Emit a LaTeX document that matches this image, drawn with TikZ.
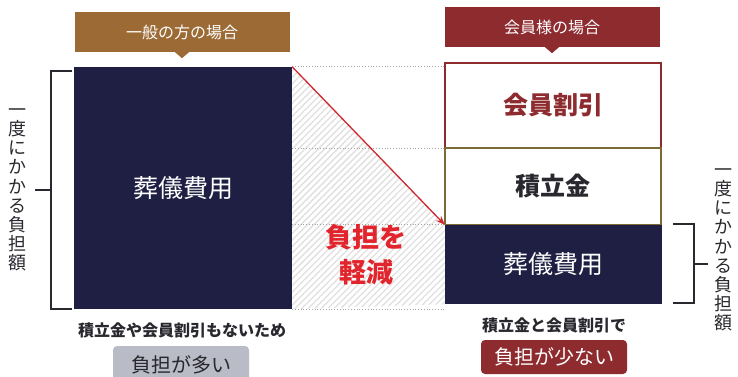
\documentclass[tikz,border=0pt]{standalone}
\usepackage{fontspec}
\setmainfont{Noto Sans CJK JP}
\usetikzlibrary{patterns.meta,arrows.meta}
\definecolor{navy}{RGB}{30,31,66}
\definecolor{hbrown}{RGB}{156,106,53}
\definecolor{hred}{RGB}{142,43,47}
\definecolor{olive}{RGB}{122,106,53}
\definecolor{alert}{RGB}{226,36,44}
\definecolor{arrowred}{RGB}{208,38,46}
\definecolor{graybox}{RGB}{185,187,198}
\definecolor{ink}{RGB}{40,40,46}
\tikzset{
  hdr/.style={fill=#1, text=white, minimum width=215pt, minimum height=40pt, inner sep=0pt, font=\fontsize{16}{18}\selectfont},
  navybox/.style={fill=navy, text=white, inner sep=0pt, font=\fontsize{25}{28}\selectfont},
  whitebox/.style={fill=white, draw=#1, line width=1.5pt, inner sep=0pt, minimum width=216pt},
  bigtxt/.style={font=\bfseries\fontsize{25}{28}\selectfont},
  redtxt/.style={text=alert, font=\bfseries\fontsize{27}{30}\selectfont, inner sep=0pt},
  dotline/.style={draw=gray!70, dotted, line width=0.8pt},
  bracket/.style={draw=ink, line width=1.4pt},
  vtext/.style={align=center, inner sep=0pt, text=ink, font=\fontsize{18}{19.2}\selectfont},
  captxt/.style={text=ink, inner sep=0pt, font=\bfseries\fontsize{16}{18}\selectfont},
  pill/.style={fill=#1, rounded corners=4pt, inner sep=0pt, font=\fontsize{20}{22}\selectfont}
}
\begin{document}
\begin{tikzpicture}[x=1pt,y=-1pt]
\useasboundingbox (0,0) rectangle (738,376);
\fill[white] (0,0) rectangle (738,376);

% headers
\node[hdr=hbrown] (h1) at (182,32) {一般の方の場合};
\fill[hbrown] ([xshift=-7pt]h1.south) -- ([yshift=-6pt]h1.south) -- ([xshift=7pt]h1.south) -- cycle;
\node[hdr=hred] (h2) at (552,27) {会員様の場合};
\fill[hred] ([xshift=-7pt]h2.south) -- ([yshift=-6pt]h2.south) -- ([xshift=7pt]h2.south) -- cycle;

% left box
\node[navybox, minimum width=218pt, minimum height=242pt] (L) at (183,188) {葬儀費用};

% right boxes
\node[whitebox=hred, minimum height=85pt, text=hred, bigtxt] (A) at (553,105.5) {会員割引};
\node[whitebox=olive, minimum height=77pt, text=ink, bigtxt] (B) at (553,186.5) {積立金};
\node[navybox, minimum width=217pt, minimum height=79pt] (C) at (553.5,264.5) {葬儀費用};

% hatched region
\fill[white] (L.north east) -- (C.north west) -- (C.south west) -- (L.south east) -- cycle;
\fill[pattern={Lines[angle=45,distance=4.6pt,line width=1.3pt]}, pattern color=gray!24]
  (L.north east) -- (C.north west) -- (C.south west) -- (L.south east) -- cycle;

% dotted guides
\draw[dotline] (L.north east) -- (L.north east -| A.west);
\draw[dotline] (L.east |- A.south) -- (A.south west);
\draw[dotline] (L.east |- C.north) -- (C.north west);
\draw[dotline] (L.south east) -- (C.west |- L.south);

% red arrow
\draw[arrowred, line width=1.3pt, -{Stealth[length=9pt,width=7pt]}] (L.north east) -- (C.north west);

\node[redtxt] (r1) at (366,237) {負担を};
\node[redtxt] (r2) at (366,272) {軽減};

% left bracket
\coordinate (lb1) at (72,71);
\coordinate (lb2) at (51,71);
\coordinate (lb3) at (51,309);
\coordinate (lb4) at (72,309);
\coordinate (lbm) at (51,190);
\coordinate (lbt) at (35,190);
\draw[bracket] (lb1) -- (lb2) -- (lb3) -- (lb4);
\draw[bracket] (lbm) -- (lbt);
\node[vtext] (vl) at (18,190) {一\\度\\に\\か\\か\\る\\負\\担\\額};

% right bracket
\coordinate (rb1) at (673,224);
\coordinate (rb2) at (694,224);
\coordinate (rb3) at (694,303);
\coordinate (rb4) at (673,303);
\coordinate (rbm) at (694,264);
\coordinate (rbt) at (708,264);
\draw[bracket] (rb1) -- (rb2) -- (rb3) -- (rb4);
\draw[bracket] (rbm) -- (rbt);
\node[vtext] (vr) at (723,250) {一\\度\\に\\か\\か\\る\\負\\担\\額};

% captions
\node[captxt] (t1) at (182,330) {積立金や会員割引もないため};
\node[pill=graybox, text=ink, minimum width=136pt, minimum height=38pt] (b1) at (181,365) {負担が多い};
\node[captxt] (t2) at (554,325) {積立金と会員割引で};
\node[pill=hred, text=white, minimum width=146pt, minimum height=34pt] (b2) at (554,357) {負担が少ない};
\end{tikzpicture}
\end{document}
